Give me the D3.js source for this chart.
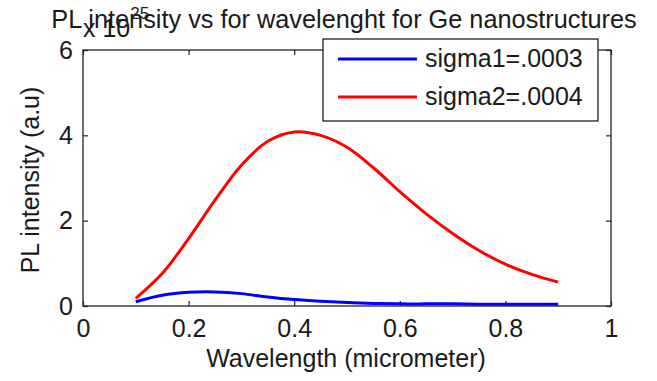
<!DOCTYPE html>
<html>
<head>
<meta charset="utf-8">
<script src="https://cdn.jsdelivr.net/npm/d3@7"></script>
<style>
  html, body { margin: 0; padding: 0; background: #fff; }
  svg text { font-family: "Liberation Sans", Arial, Helvetica, sans-serif; fill: #1a1a1a; }
</style>
</head>
<body>
<svg id="chart" width="657" height="381"></svg>
<script>
// ---- data ----
const wavelength = [0.10, 0.15, 0.20, 0.25, 0.30, 0.35, 0.40, 0.45, 0.50, 0.55, 0.60, 0.65, 0.70, 0.75, 0.80, 0.85, 0.90];
const sigma1 = [0.10, 0.25, 0.32, 0.33, 0.29, 0.21, 0.15, 0.11, 0.08, 0.06, 0.05, 0.05, 0.05, 0.04, 0.04, 0.04, 0.04];
const sigma2 = [0.18, 0.76, 1.58, 2.48, 3.30, 3.86, 4.08, 4.00, 3.72, 3.24, 2.68, 2.16, 1.70, 1.30, 0.98, 0.74, 0.56];
const seriesNames = ["sigma1=.0003", "sigma2=.0004"];
const seriesColors = ["#0000ff", "#ff0000"];
const xTicks = [0, 0.2, 0.4, 0.6, 0.8, 1];
const xTickLabels = ["0", "0.2", "0.4", "0.6", "0.8", "1"];
const yTicks = [0, 2, 4, 6];
const yTickLabels = ["0", "2", "4", "6"];
const titleText = "PL intensity vs for wavelenght for Ge nanostructures";
const xLabelText = "Wavelength (micrometer)";
const yLabelText = "PL intensity (a.u)";

(function () {
// ---- layout ----
const svg = d3.select("#chart");
const pL = 83, pR = 611, pT = 50, pB = 306;
const x = d3.scaleLinear().domain([0, 1]).range([pL, pR]);
const y = d3.scaleLinear().domain([0, 6]).range([pB, pT]);
const fs = 25;

// axes
const gx = svg.append("g").attr("transform", `translate(0,${pB})`)
  .call(d3.axisBottom(x).tickValues(xTicks).tickFormat((d, i) => xTickLabels[i])
    .tickSizeInner(-5).tickSizeOuter(0).tickPadding(13));
const gxt = svg.append("g").attr("transform", `translate(0,${pT})`)
  .call(d3.axisTop(x).tickValues(xTicks).tickFormat("").tickSizeInner(-5).tickSizeOuter(0));
const gy = svg.append("g").attr("transform", `translate(${pL},0)`)
  .call(d3.axisLeft(y).tickValues(yTicks).tickFormat((d, i) => yTickLabels[i])
    .tickSizeInner(-5).tickSizeOuter(0).tickPadding(10));
const gyr = svg.append("g").attr("transform", `translate(${pR},0)`)
  .call(d3.axisRight(y).tickValues(yTicks).tickFormat("").tickSizeInner(-5).tickSizeOuter(0));

[gx, gxt, gy, gyr].forEach(g => {
  g.select(".domain").remove();
  g.selectAll(".tick line").attr("stroke", "#222").attr("stroke-width", 1.2);
  g.selectAll("text").attr("font-size", fs).attr("font-family", null).attr("fill", "#1a1a1a");
});

// frame
svg.append("rect")
  .attr("x", pL).attr("y", pT)
  .attr("width", pR - pL).attr("height", pB - pT)
  .attr("fill", "none").attr("stroke", "#222").attr("stroke-width", 1.3);

// lines
const line = d3.line().x(d => x(d[0])).y(d => y(d[1])).curve(d3.curveCatmullRom);
[sigma1, sigma2].forEach((vals, i) => {
  svg.append("path")
    .datum(wavelength.map((w, j) => [w, vals[j]]))
    .attr("fill", "none")
    .attr("stroke", seriesColors[i])
    .attr("stroke-width", 3)
    .attr("d", line);
});

// title
svg.append("text").attr("x", 344).attr("y", 28).attr("text-anchor", "middle")
  .attr("font-size", 25.3).text(titleText);

// exponent label
const expo = svg.append("text").attr("x", 83).attr("y", 37).attr("font-size", fs);
expo.append("tspan").text("x 10");
expo.append("tspan").attr("font-size", 17).attr("dy", -18).text("25");

// axis labels
svg.append("text").attr("x", 346).attr("y", 367).attr("text-anchor", "middle")
  .attr("font-size", fs).text(xLabelText);
svg.append("text").attr("transform", "translate(39,180) rotate(-90)")
  .attr("text-anchor", "middle").attr("font-size", fs).text(yLabelText);

// legend
const lg = svg.append("g");
lg.append("rect").attr("x", 323).attr("y", 39).attr("width", 275).attr("height", 82)
  .attr("fill", "#fff").attr("stroke", "#222").attr("stroke-width", 1.3);
seriesNames.forEach((name, i) => {
  const ly = 59 + i * 38;
  lg.append("line").attr("x1", 338).attr("x2", 417).attr("y1", ly).attr("y2", ly)
    .attr("stroke", seriesColors[i]).attr("stroke-width", 3);
  lg.append("text").attr("x", 425).attr("y", ly + 8).attr("font-size", fs).text(name);
});
})();
</script>
</body>
</html>
